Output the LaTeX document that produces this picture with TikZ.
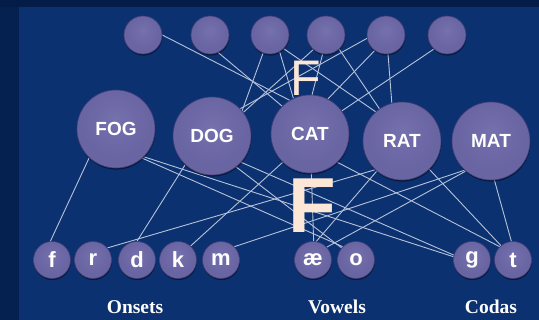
\documentclass[tikz,border=0pt]{standalone}
\usepackage{fontspec}
\setmainfont{Liberation Serif}
\newfontfamily\labelsans{Liberation Sans}
\usetikzlibrary{shadows}

\definecolor{pagebg}{HTML}{0B3170}
\definecolor{pageedge}{HTML}{05214F}
\definecolor{pagetop}{HTML}{031C48}
\definecolor{beadhi}{HTML}{7571AD}
\definecolor{beadmid}{HTML}{6964A2}
\definecolor{beadlo}{HTML}{544F8C}
\definecolor{beadrim}{HTML}{433E78}
\definecolor{linkc}{HTML}{B7C2DA}
\definecolor{peach}{HTML}{FCE6D6}

% soft bead: slightly lighter centre, darker rim towards the bottom
\pgfdeclareradialshading{bead}{\pgfpoint{0bp}{6bp}}{%
  color(0bp)=(beadhi); color(22bp)=(beadmid); color(40bp)=(beadmid);
  color(50bp)=(beadlo); color(60bp)=(beadrim)}

\pgfdeclarelayer{back}
\pgfdeclarelayer{links}
\pgfsetlayers{back,links,main}

\tikzset{
  ball/.style={circle, inner sep=0pt, shading=bead, draw=beadrim,
    line width=0.6pt, text=white,
    drop shadow={shadow xshift=0.4pt, shadow yshift=-1.6pt,
      opacity=0.45, fill=black}},
  sem/.style={ball, minimum size=38pt},
  word/.style={ball, minimum size=78pt,
    font=\labelsans\bfseries\fontsize{19}{19}\selectfont},
  phon/.style={ball, minimum size=37pt,
    font=\labelsans\bfseries\fontsize{22}{22}\selectfont},
  link/.style={draw=linkc, line width=0.9pt},
  group/.style={text=white, font=\bfseries\fontsize{19.5}{20}\selectfont},
  bigF/.style={text=peach, inner sep=0pt}
}

\begin{document}
\begin{tikzpicture}[x=1pt, y=-1pt]
\useasboundingbox (0,0) rectangle (539,320);

\begin{pgfonlayer}{back}
  \fill[pagebg] (0,0) rectangle (539,320);
  \fill[pageedge] (0,0) rectangle (19,320);
  \fill[pagetop] (0,0) rectangle (539,7);
\end{pgfonlayer}

% semantic units
\node[sem] (s1) at (143,35) {};
\node[sem] (s2) at (210,35) {};
\node[sem] (s3) at (270,35) {};
\node[sem] (s4) at (326,35) {};
\node[sem] (s5) at (386,35) {};
\node[sem] (s6) at (447,35) {};

% word units
\node[word] (fog) at (116,129) {FOG};
\node[word] (dog) at (212,136) {DOG};
\node[word] (cat) at (310,134) {CAT};
\node[word] (rat) at (402,141) {RAT};
\node[word] (mat) at (491,141) {MAT};

% phoneme units
\node[phon] (pf)  at (52,260)  {f};
\node[phon] (pr)  at (93,260)  {r};
\node[phon] (pd)  at (137,260) {d};
\node[phon] (pk)  at (178,260) {k};
\node[phon] (pm)  at (221,260) {m};
\node[phon] (pae) at (313,260) {æ};
\node[phon] (po)  at (356,260) {o};
\node[phon] (pg)  at (472,260) {g};
\node[phon] (pt)  at (513,260) {t};

% group labels
\node[group] (lon) at (135,307) {Onsets};
\node[group] (lvo) at (337,307) {Vowels};
\node[group] (lco) at (491,307) {Codas};

\begin{pgfonlayer}{links}
  % semantics -- words
  \draw[link] (s1.east)  -- (cat.121);
  \draw[link] (s2.-65)   -- (cat.135);
  \draw[link] (s3.-111)  -- (dog.40);
  \draw[link] (s3.-60)   -- (cat.115);
  \draw[link] (s3.-45)   -- (rat.132);
  \draw[link] (s4.-131)  -- (dog.37);
  \draw[link] (s4.-100)  -- (cat.87);
  \draw[link] (s4.-47)   -- (rat.125);
  \draw[link] (s5.190)   -- (dog.44);
  \draw[link] (s5.234)   -- (cat.63);
  \draw[link] (s5.-84)   -- (rat.105);
  \draw[link] (s6.227)   -- (cat.36);
  % words -- phonemes
  \draw[link] (fog.-133) -- (pf.95);
  \draw[link] (fog.-48)  -- (po.135);
  \draw[link] (fog.-45)  -- (pg.170);
  \draw[link] (dog.-133) -- (pd.90);
  \draw[link] (dog.-52)  -- (po.140);
  \draw[link] (dog.-42)  -- (pg.165);
  \draw[link] (cat.-134) -- (pk.48);
  \draw[link] (cat.-88)  -- (pae.88);
  \draw[link] (cat.-46)  -- (pt.135);
  \draw[link] (rat.-133) -- (pr.40);
  \draw[link] (rat.-130) -- (pae.80);
  \draw[link] (rat.-46)  -- (pt.130);
  \draw[link] (mat.-132) -- (pm.45);
  \draw[link] (mat.-130) -- (pae.43);
  \draw[link] (mat.-85)  -- (pt.95);
\end{pgfonlayer}

% overlaid letters
\node[bigF, font=\labelsans\fontsize{50}{50}\selectfont] (fa) at (306,78) {F};
\node[bigF, font=\labelsans\bfseries\fontsize{78}{78}\selectfont] (fb) at (312,206) {F};
\end{tikzpicture}
\end{document}
